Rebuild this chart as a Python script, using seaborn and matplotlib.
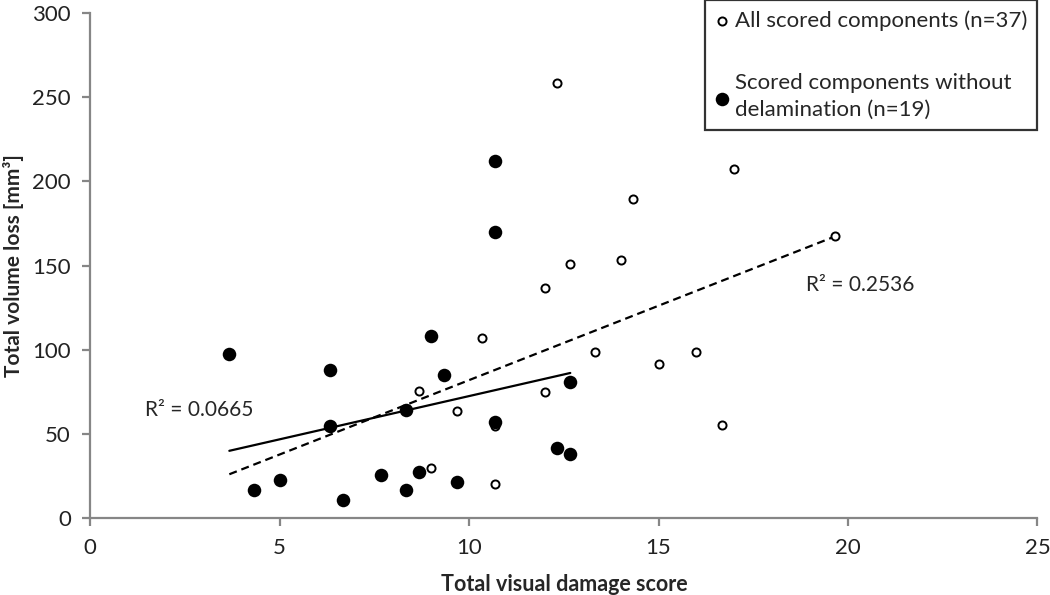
import numpy as np
import matplotlib
matplotlib.use("Agg")
import matplotlib.pyplot as plt
import seaborn as sns

# Components without delamination (filled)
filled_score = [3.67, 4.33, 5.0, 6.33, 6.33, 6.67, 7.67, 8.33, 8.33, 8.67,
                9.0, 9.33, 9.67, 10.67, 10.67, 10.67, 12.33, 12.67, 12.67]
filled_loss = [97.5, 17.0, 22.6, 88.3, 55.0, 11.0, 25.7, 64.0, 16.7, 27.2,
               108.5, 84.8, 21.5, 212.0, 170.0, 57.0, 42.0, 81.0, 38.2]

# Remaining scored components (with delamination)
other_score = [8.67, 9.0, 9.67, 10.33, 10.67, 10.67, 12.0, 12.0, 12.33, 12.67,
               13.33, 14.0, 14.33, 15.0, 16.0, 16.67, 17.0, 19.67]
other_loss = [75.5, 30.0, 63.8, 107.0, 54.5, 20.3, 136.5, 75.0, 258.5, 151.0,
              98.7, 153.3, 189.4, 91.5, 98.8, 55.3, 207.4, 167.8]

all_score = filled_score + other_score
all_loss = filled_loss + other_loss

r2_all = "R² = 0.2536"
r2_filled = "R² = 0.0665"

sns.set_style("ticks")
plt.rcParams['font.family'] = ['Lato', 'DejaVu Sans']

fig, ax = plt.subplots(figsize=(10.5, 5.95), dpi=100)
fig.subplots_adjust(left=0.086, right=0.988, bottom=0.129, top=0.978)

# scatter: all components (open), then without delamination (filled)
sns.scatterplot(x=all_score, y=all_loss, ax=ax, marker='o', s=34, color='white',
                edgecolor='black', linewidth=1.4, label='All scored components (n=37)', zorder=3)
sns.scatterplot(x=filled_score, y=filled_loss, ax=ax, marker='o', s=95, color='black',
                edgecolor='black', linewidth=0, label='Scored components without\ndelamination (n=19)', zorder=4)

# linear trend lines
sns.regplot(x=np.array(all_score), y=np.array(all_loss), ax=ax, scatter=False, ci=None, truncate=True,
            line_kws=dict(color='black', lw=1.6, linestyle=(0, (3.6, 2.2)), zorder=2))
sns.regplot(x=np.array(filled_score), y=np.array(filled_loss), ax=ax, scatter=False, ci=None, truncate=True,
            line_kws=dict(color='black', lw=1.6, zorder=2))

ax.text(1.45, 64, r2_filled, fontsize=15, va='center', ha='left')
ax.text(18.9, 138.5, r2_all, fontsize=15, va='center', ha='left')

ax.set_xlim(0, 25)
ax.set_ylim(0, 300)
ax.set_xticks(range(0, 26, 5))
ax.set_yticks(range(0, 301, 50))
ax.set_xlabel("Total visual damage score", fontsize=15.5, fontweight='bold', labelpad=12)
ax.set_ylabel("Total volume loss [mm³]", fontsize=15, fontweight='bold', labelpad=6)

sns.despine(ax=ax)
for side in ['left', 'bottom']:
    ax.spines[side].set_color('#868686')
    ax.spines[side].set_linewidth(1.6)
ax.tick_params(axis='both', colors='#868686', width=1.6, length=6, labelsize=16, labelcolor='#222222')
ax.tick_params(axis='x', pad=8)
ax.tick_params(axis='y', pad=8)

leg = ax.legend(loc='upper right', bbox_to_anchor=(1.0, 1.026), borderaxespad=0,
                frameon=True, fancybox=False, fontsize=16, labelspacing=1.9,
                handletextpad=0.3, handlelength=0.6, borderpad=0.45)
for t in leg.get_texts():
    t.set_linespacing(1.45)
leg.get_frame().set_edgecolor('black')
leg.get_frame().set_linewidth(1.6)

plt.savefig("out.png", dpi=100)
